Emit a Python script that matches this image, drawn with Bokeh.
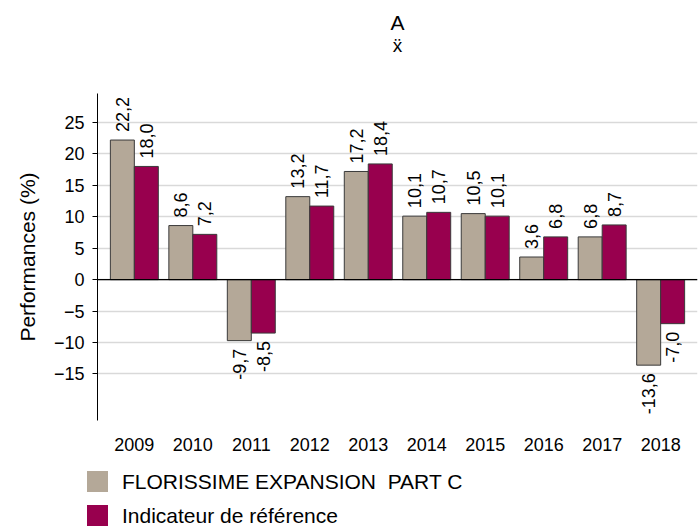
from math import pi
from bokeh.plotting import figure
from bokeh.layouts import column
from bokeh.models import (FactorRange, Range1d, FixedTicker, Span, Label, Div,
                          ColumnDataSource)
from bokeh.transform import dodge
from bokeh.core.properties import value
from bokeh.embed import file_html
from bokeh.resources import INLINE

years = ["2009", "2010", "2011", "2012", "2013", "2014", "2015", "2016", "2017", "2018"]
fund = [22.2, 8.6, -9.7, 13.2, 17.2, 10.1, 10.5, 3.6, 6.8, -13.6]
bench = [18.0, 7.2, -8.5, 11.7, 18.4, 10.7, 10.1, 6.8, 8.7, -7.0]
series_names = ["FLORISSIME EXPANSION  PART C", "Indicateur de référence"]
series_colors = ["#B4A898", "#98004E"]
y_ticks = [-15, -10, -5, 0, 5, 10, 15, 20, 25]
y_label = "Performances (%)"
title_text = "A"
title_mark = "ẍ"

FONT = "Liberation Sans"


def fmt(v):
    return f"{v:.1f}".replace(".", ",")


# ---- title strip ----
tf = figure(width=700, height=93, output_backend="svg", toolbar_location=None,
            x_range=Range1d(0, 1), y_range=Range1d(93, 0),
            min_border_left=0, min_border_right=0, min_border_top=0, min_border_bottom=0)
tf.axis.visible = False
tf.grid.visible = False
tf.outline_line_color = None
tf.add_layout(Label(x=0.5, y=22, text=title_text, text_align="center",
                    text_baseline="middle", text_font=FONT, text_font_size="21px",
                    text_color="#000000"))
tf.add_layout(Label(x=0.5, y=45, text=title_mark, text_align="center",
                    text_baseline="middle", text_font=FONT, text_font_size="19px",
                    text_color="#000000"))

# ---- main chart ----
p = figure(width=700, height=367, output_backend="svg", toolbar_location=None,
           x_range=FactorRange(factors=years, range_padding=0.13,
                               range_padding_units="absolute"),
           y_range=Range1d(-22.4, 29.6),
           min_border_left=97, min_border_right=3, min_border_top=0,
           min_border_bottom=40)
p.outline_line_color = None
p.xgrid.grid_line_color = None
p.ygrid.ticker = FixedTicker(ticks=y_ticks)
p.ygrid.grid_line_color = "#d9d9d9"
p.ygrid.grid_line_width = 1.3

p.yaxis.ticker = FixedTicker(ticks=y_ticks)
p.yaxis.axis_label = y_label
p.yaxis.axis_label_text_font = FONT
p.yaxis.axis_label_text_font_size = "21px"
p.yaxis.axis_label_text_font_style = "normal"
p.yaxis.axis_label_text_color = "#000000"
p.yaxis.axis_label_standoff = 12
p.yaxis.major_label_text_font = FONT
p.yaxis.major_label_text_font_size = "18px"
p.yaxis.major_label_text_color = "#000000"
p.yaxis.major_label_standoff = 8
p.yaxis.major_tick_in = 0
p.yaxis.major_tick_out = 5
p.yaxis.minor_tick_line_color = None
p.yaxis.axis_line_color = "#000000"
p.yaxis.major_tick_line_color = "#000000"

p.xaxis.axis_line_color = None
p.xaxis.major_tick_line_color = None
p.xaxis.minor_tick_line_color = None
p.xaxis.major_label_text_font = FONT
p.xaxis.major_label_text_font_size = "18px"
p.xaxis.major_label_text_color = "#000000"
p.xaxis.major_label_standoff = 11

for vals, off, color in [(fund, -0.205, series_colors[0]), (bench, 0.205, series_colors[1])]:
    src = ColumnDataSource(dict(
        year=years, val=vals,
        lbl=[fmt(v) for v in vals],
        align=["left" if v >= 0 else "right" for v in vals],
        yoff=[-8 if v >= 0 else 8 for v in vals],
    ))
    p.vbar(x=dodge("year", off, range=p.x_range), top="val", bottom=0, width=0.41,
           source=src, fill_color=color, line_color="#3a3a3a", line_width=1)
    p.text(x=dodge("year", off, range=p.x_range), y="val", text="lbl", source=src,
           angle=pi / 2, text_align="align", text_baseline="middle", y_offset="yoff",
           text_font_size="18px", text_font=value(FONT), text_color="#000000")

p.add_layout(Span(location=0, dimension="width", line_color="#000000", line_width=1.2))

# ---- legend strip (HTML) ----
rows = []
for i, (name, color) in enumerate(zip(series_names, series_colors)):
    top = 11 + 34 * i
    rows.append(
        f'<div style="position:absolute;left:87px;top:{top}px;width:21px;height:21px;'
        f'background:{color};"></div>'
        f'<div style="position:absolute;left:122px;top:{top}px;height:21px;line-height:21px;'
        f'white-space:pre;font-family:\'{FONT}\';font-size:21px;color:#000000;">{name}</div>'
    )
legend_html = ('<div style="position:relative;width:700px;height:67px;overflow:hidden;">'
               + "".join(rows) + "</div>")
lg = Div(text=legend_html, width=700, height=67, margin=(0, 0, 0, 0))

open("out.html", "w").write(file_html(column(tf, p, lg, spacing=0), INLINE))
